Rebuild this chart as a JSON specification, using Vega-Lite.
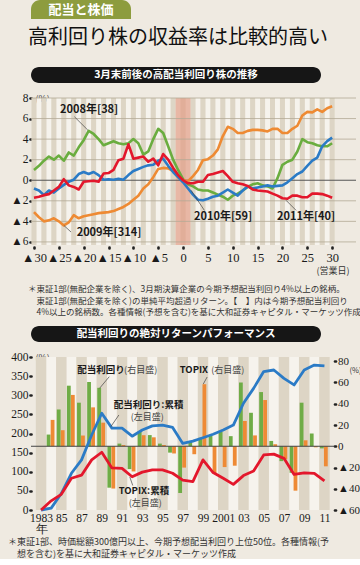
{
  "$schema": "https://vega.github.io/schema/vega-lite/v6.json",
  "background": "#efeae1",
  "padding": {"left": 8, "top": 0, "right": 0, "bottom": 0},
  "spacing": 9,
  "resolve": {"scale": {"color": "independent"}},
  "config": {
    "view": {"stroke": null},
    "font": "Noto Sans CJK JP",
    "text": {"font": "Noto Sans CJK JP"},
    "title": {"font": "Noto Sans CJK JP"},
    "axis": {"labelFont": "Liberation Sans Narrow", "labelColor": "#1a1a1a", "titleFont": "Noto Sans CJK JP", "titleColor": "#333", "titleFontWeight": "normal", "labelOverlap": false, "labelFlush": false, "grid": false, "domain": false, "tickCount": 100}
  },
  "datasets": {
    "topTan": [{"d":-30},{"d":-28},{"d":-26},{"d":-24},{"d":-22},{"d":-20},{"d":-18},{"d":-16},{"d":-14},{"d":-12},{"d":-10},{"d":-8},{"d":-6},{"d":-4},{"d":-2},{"d":0},{"d":2},{"d":4},{"d":6},{"d":8},{"d":10},{"d":12},{"d":14},{"d":16},{"d":18},{"d":20},{"d":22},{"d":24},{"d":26},{"d":28},{"d":30}],
    "topLight": [{"d":-29},{"d":-27},{"d":-25},{"d":-23},{"d":-21},{"d":-19},{"d":-17},{"d":-15},{"d":-13},{"d":-11},{"d":-9},{"d":-7},{"d":-5},{"d":-3},{"d":-1},{"d":1},{"d":3},{"d":5},{"d":7},{"d":9},{"d":11},{"d":13},{"d":15},{"d":17},{"d":19},{"d":21},{"d":23},{"d":25},{"d":27},{"d":29}],
    "topGrid": [{"v":-6},{"v":-4},{"v":-2},{"v":2},{"v":4},{"v":6},{"v":8}],
    "top": [
      {"s":"2008","d":-30,"v":1.0},{"s":"2008","d":-29,"v":1.4},{"s":"2008","d":-28,"v":1.9},{"s":"2008","d":-27,"v":2.3},{"s":"2008","d":-26,"v":2.0},{"s":"2008","d":-25,"v":2.4},{"s":"2008","d":-24,"v":1.9},{"s":"2008","d":-23,"v":2.7},{"s":"2008","d":-22,"v":2.4},{"s":"2008","d":-21,"v":3.2},{"s":"2008","d":-20,"v":3.9},{"s":"2008","d":-19,"v":4.8},{"s":"2008","d":-18,"v":4.5},{"s":"2008","d":-17,"v":4.0},{"s":"2008","d":-16,"v":3.4},{"s":"2008","d":-15,"v":3.6},{"s":"2008","d":-14,"v":3.8},{"s":"2008","d":-13,"v":3.6},{"s":"2008","d":-12,"v":3.5},{"s":"2008","d":-11,"v":3.6},{"s":"2008","d":-10,"v":4.0},{"s":"2008","d":-9,"v":3.6},{"s":"2008","d":-8,"v":2.5},{"s":"2008","d":-7,"v":2.8},{"s":"2008","d":-6,"v":4.0},{"s":"2008","d":-5,"v":5.0},{"s":"2008","d":-4,"v":4.6},{"s":"2008","d":-3,"v":3.3},{"s":"2008","d":-2,"v":2.0},{"s":"2008","d":-1,"v":1.0},{"s":"2008","d":0,"v":0.1},
      {"s":"2008","d":1,"v":-0.4},{"s":"2008","d":2,"v":-0.6},{"s":"2008","d":3,"v":-0.9},{"s":"2008","d":4,"v":-1.0},{"s":"2008","d":5,"v":-1.0},{"s":"2008","d":6,"v":-1.2},{"s":"2008","d":7,"v":-1.4},{"s":"2008","d":8,"v":-1.6},{"s":"2008","d":9,"v":-1.9},{"s":"2008","d":10,"v":-1.5},{"s":"2008","d":11,"v":-1.3},{"s":"2008","d":12,"v":-1.0},{"s":"2008","d":13,"v":-0.65},{"s":"2008","d":14,"v":-0.4},{"s":"2008","d":15,"v":-0.3},{"s":"2008","d":16,"v":-0.5},{"s":"2008","d":17,"v":-0.6},{"s":"2008","d":18,"v":-0.8},{"s":"2008","d":19,"v":0.2},{"s":"2008","d":20,"v":1.5},{"s":"2008","d":21,"v":1.8},{"s":"2008","d":22,"v":2.0},{"s":"2008","d":23,"v":2.8},{"s":"2008","d":24,"v":4.0},{"s":"2008","d":25,"v":3.7},{"s":"2008","d":26,"v":3.6},{"s":"2008","d":27,"v":3.4},{"s":"2008","d":28,"v":3.3},{"s":"2008","d":29,"v":3.3},{"s":"2008","d":30,"v":3.6},
      {"s":"2009","d":-30,"v":-3.1},{"s":"2009","d":-29,"v":-3.6},{"s":"2009","d":-28,"v":-4.0},{"s":"2009","d":-27,"v":-3.9},{"s":"2009","d":-26,"v":-3.7},{"s":"2009","d":-25,"v":-4.0},{"s":"2009","d":-24,"v":-4.4},{"s":"2009","d":-23,"v":-4.1},{"s":"2009","d":-22,"v":-3.4},{"s":"2009","d":-21,"v":-3.7},{"s":"2009","d":-20,"v":-3.5},{"s":"2009","d":-19,"v":-3.4},{"s":"2009","d":-18,"v":-3.3},{"s":"2009","d":-17,"v":-3.2},{"s":"2009","d":-16,"v":-3.15},{"s":"2009","d":-15,"v":-3.1},{"s":"2009","d":-14,"v":-3.0},{"s":"2009","d":-13,"v":-2.8},{"s":"2009","d":-12,"v":-2.6},{"s":"2009","d":-11,"v":-2.3},{"s":"2009","d":-10,"v":-1.9},{"s":"2009","d":-9,"v":-1.5},{"s":"2009","d":-8,"v":-0.8},{"s":"2009","d":-7,"v":-0.4},{"s":"2009","d":-6,"v":0.3},{"s":"2009","d":-5,"v":1.1},{"s":"2009","d":-4,"v":1.2},{"s":"2009","d":-3,"v":1.15},{"s":"2009","d":-2,"v":0.9},{"s":"2009","d":-1,"v":0.3},{"s":"2009","d":0,"v":0.0},
      {"s":"2009","d":1,"v":-0.1},{"s":"2009","d":2,"v":0.4},{"s":"2009","d":3,"v":1.0},{"s":"2009","d":4,"v":1.95},{"s":"2009","d":5,"v":2.05},{"s":"2009","d":6,"v":2.4},{"s":"2009","d":7,"v":3.0},{"s":"2009","d":8,"v":4.3},{"s":"2009","d":9,"v":5.2},{"s":"2009","d":10,"v":5.0},{"s":"2009","d":11,"v":4.6},{"s":"2009","d":12,"v":4.6},{"s":"2009","d":13,"v":4.8},{"s":"2009","d":14,"v":4.9},{"s":"2009","d":15,"v":4.9},{"s":"2009","d":16,"v":4.85},{"s":"2009","d":17,"v":4.75},{"s":"2009","d":18,"v":5.0},{"s":"2009","d":19,"v":5.0},{"s":"2009","d":20,"v":4.6},{"s":"2009","d":21,"v":4.6},{"s":"2009","d":22,"v":5.0},{"s":"2009","d":23,"v":5.3},{"s":"2009","d":24,"v":6.3},{"s":"2009","d":25,"v":6.65},{"s":"2009","d":26,"v":6.6},{"s":"2009","d":27,"v":6.9},{"s":"2009","d":28,"v":6.65},{"s":"2009","d":29,"v":7.0},{"s":"2009","d":30,"v":7.2},
      {"s":"2010","d":-30,"v":-0.8},{"s":"2010","d":-29,"v":-1.0},{"s":"2010","d":-28,"v":-1.45},{"s":"2010","d":-27,"v":-1.0},{"s":"2010","d":-26,"v":-1.2},{"s":"2010","d":-25,"v":-0.8},{"s":"2010","d":-24,"v":-0.45},{"s":"2010","d":-23,"v":-0.15},{"s":"2010","d":-22,"v":0.05},{"s":"2010","d":-21,"v":0.6},{"s":"2010","d":-20,"v":0.8},{"s":"2010","d":-19,"v":0.6},{"s":"2010","d":-18,"v":0.8},{"s":"2010","d":-17,"v":0.5},{"s":"2010","d":-16,"v":0.05},{"s":"2010","d":-15,"v":0.1},{"s":"2010","d":-14,"v":0.05},{"s":"2010","d":-13,"v":0.15},{"s":"2010","d":-12,"v":0.05},{"s":"2010","d":-11,"v":0.5},{"s":"2010","d":-10,"v":0.9},{"s":"2010","d":-9,"v":1.1},{"s":"2010","d":-8,"v":1.3},{"s":"2010","d":-7,"v":1.45},{"s":"2010","d":-6,"v":1.5},{"s":"2010","d":-5,"v":1.9},{"s":"2010","d":-4,"v":2.1},{"s":"2010","d":-3,"v":1.4},{"s":"2010","d":-2,"v":0.8},{"s":"2010","d":-1,"v":0.3},{"s":"2010","d":0,"v":-0.2},
      {"s":"2010","d":1,"v":-0.8},{"s":"2010","d":2,"v":-1.4},{"s":"2010","d":3,"v":-1.9},{"s":"2010","d":4,"v":-1.95},{"s":"2010","d":5,"v":-1.8},{"s":"2010","d":6,"v":-1.6},{"s":"2010","d":7,"v":-1.5},{"s":"2010","d":8,"v":-1.2},{"s":"2010","d":9,"v":-0.9},{"s":"2010","d":10,"v":-1.2},{"s":"2010","d":11,"v":-1.5},{"s":"2010","d":12,"v":-1.0},{"s":"2010","d":13,"v":-0.6},{"s":"2010","d":14,"v":-0.8},{"s":"2010","d":15,"v":-0.7},{"s":"2010","d":16,"v":-0.6},{"s":"2010","d":17,"v":-0.5},{"s":"2010","d":18,"v":-0.6},{"s":"2010","d":19,"v":-0.55},{"s":"2010","d":20,"v":-0.5},{"s":"2010","d":21,"v":-0.2},{"s":"2010","d":22,"v":0.2},{"s":"2010","d":23,"v":0.6},{"s":"2010","d":24,"v":0.85},{"s":"2010","d":25,"v":1.4},{"s":"2010","d":26,"v":1.9},{"s":"2010","d":27,"v":2.2},{"s":"2010","d":28,"v":3.3},{"s":"2010","d":29,"v":3.8},{"s":"2010","d":30,"v":4.15},
      {"s":"2011","d":-30,"v":-1.7},{"s":"2011","d":-29,"v":-1.6},{"s":"2011","d":-28,"v":-1.45},{"s":"2011","d":-27,"v":-1.35},{"s":"2011","d":-26,"v":-1.0},{"s":"2011","d":-25,"v":-0.65},{"s":"2011","d":-24,"v":0.1},{"s":"2011","d":-23,"v":-0.5},{"s":"2011","d":-22,"v":-0.65},{"s":"2011","d":-21,"v":-0.9},{"s":"2011","d":-20,"v":-0.15},{"s":"2011","d":-19,"v":-0.1},{"s":"2011","d":-18,"v":-0.05},{"s":"2011","d":-17,"v":-0.15},{"s":"2011","d":-16,"v":0.65},{"s":"2011","d":-15,"v":0.7},{"s":"2011","d":-14,"v":1.0},{"s":"2011","d":-13,"v":1.95},{"s":"2011","d":-12,"v":2.1},{"s":"2011","d":-11,"v":3.5},{"s":"2011","d":-10,"v":2.1},{"s":"2011","d":-9,"v":2.2},{"s":"2011","d":-8,"v":2.3},{"s":"2011","d":-7,"v":1.8},{"s":"2011","d":-6,"v":2.1},{"s":"2011","d":-5,"v":1.45},{"s":"2011","d":-4,"v":2.55},{"s":"2011","d":-3,"v":2.0},{"s":"2011","d":-2,"v":1.2},{"s":"2011","d":-1,"v":0.5},{"s":"2011","d":0,"v":0.0},
      {"s":"2011","d":1,"v":-0.3},{"s":"2011","d":2,"v":-0.3},{"s":"2011","d":3,"v":-0.15},{"s":"2011","d":4,"v":-0.15},{"s":"2011","d":5,"v":0.5},{"s":"2011","d":6,"v":0.6},{"s":"2011","d":7,"v":0.75},{"s":"2011","d":8,"v":0.9},{"s":"2011","d":9,"v":0.4},{"s":"2011","d":10,"v":-0.15},{"s":"2011","d":11,"v":-0.3},{"s":"2011","d":12,"v":-0.4},{"s":"2011","d":13,"v":-0.55},{"s":"2011","d":14,"v":-0.9},{"s":"2011","d":15,"v":-1.0},{"s":"2011","d":16,"v":-1.05},{"s":"2011","d":17,"v":-1.1},{"s":"2011","d":18,"v":-1.3},{"s":"2011","d":19,"v":-1.5},{"s":"2011","d":20,"v":-1.75},{"s":"2011","d":21,"v":-1.8},{"s":"2011","d":22,"v":-1.5},{"s":"2011","d":23,"v":-1.5},{"s":"2011","d":24,"v":-1.65},{"s":"2011","d":25,"v":-1.65},{"s":"2011","d":26,"v":-1.3},{"s":"2011","d":27,"v":-1.3},{"s":"2011","d":28,"v":-1.35},{"s":"2011","d":29,"v":-1.5},{"s":"2011","d":30,"v":-1.7}
    ],
    "topLabels": [
      {"d":-18.9,"v":6.83,"t":"2008年[38]"},
      {"d":-14.9,"v":-5.17,"t":"2009年[314]"},
      {"d":8.05,"v":-3.61,"t":"2010年[59]"},
      {"d":24.75,"v":-3.61,"t":"2011年[40]"}
    ],
    "topLeaders": [
      {"d":-21.87,"v":6.18,"d2":-19.17,"v2":4.88},
      {"d":-24.0,"v":-4.39,"d2":-22.54,"v2":-5.04},
      {"d":1.61,"v":-0.98,"d2":4.29,"v2":-2.93},
      {"d":20.72,"v":-1.95,"d2":22.74,"v2":-2.93}
    ],
    "botTan": [{"year":1983},{"year":1985},{"year":1987},{"year":1989},{"year":1991},{"year":1993},{"year":1995},{"year":1997},{"year":1999},{"year":2001},{"year":2003},{"year":2005},{"year":2007},{"year":2009},{"year":2011}],
    "botLight": [{"year":1984},{"year":1986},{"year":1988},{"year":1990},{"year":1992},{"year":1994},{"year":1996},{"year":1998},{"year":2000},{"year":2002},{"year":2004},{"year":2006},{"year":2008},{"year":2010}],
    "annual": [
      {"year":1984,"dy":11,"tp":24.8},{"year":1985,"dy":34.6,"tp":15.1},{"year":1986,"dy":57,"tp":48.3},{"year":1987,"dy":41,"tp":10.1},{"year":1988,"dy":60.5,"tp":36.6},{"year":1989,"dy":55,"tp":22.2},{"year":1990,"dy":-39,"tp":-39.8},{"year":1991,"dy":2.5,"tp":1.1},{"year":1992,"dy":-21.5,"tp":-23.7},{"year":1993,"dy":13.7,"tp":10.4},{"year":1994,"dy":10.5,"tp":8.4},{"year":1995,"dy":2.5,"tp":1.2},{"year":1996,"dy":-6,"tp":-6.8},{"year":1997,"dy":-44,"tp":-20.1},{"year":1998,"dy":4,"tp":-7.5},{"year":1999,"dy":8,"tp":58.4},{"year":2000,"dy":10,"tp":-25.5},{"year":2001,"dy":13.5,"tp":-19.6},{"year":2002,"dy":9.5,"tp":-18.3},{"year":2003,"dy":60,"tp":23.8},{"year":2004,"dy":31.5,"tp":10.2},{"year":2005,"dy":51,"tp":43.5},{"year":2006,"dy":5,"tp":1.9},{"year":2007,"dy":-14,"tp":-12.2},{"year":2008,"dy":-25,"tp":-41.8},{"year":2009,"dy":41,"tp":5.6},{"year":2010,"dy":12,"tp":-1.0},{"year":2011,"dy":-2,"tp":-18.9}
    ],
    "cum": [
      {"s":"配当利回り:累積","year":1983,"v":0},{"s":"配当利回り:累積","year":1984,"v":5},{"s":"配当利回り:累積","year":1985,"v":43},{"s":"配当利回り:累積","year":1986,"v":96},{"s":"配当利回り:累積","year":1987,"v":131},{"s":"配当利回り:累積","year":1988,"v":196},{"s":"配当利回り:累積","year":1989,"v":253},{"s":"配当利回り:累積","year":1990,"v":214},{"s":"配当利回り:累積","year":1991,"v":214},{"s":"配当利回り:累積","year":1992,"v":193},{"s":"配当利回り:累積","year":1993,"v":209},{"s":"配当利回り:累積","year":1994,"v":220},{"s":"配当利回り:累積","year":1995,"v":222},{"s":"配当利回り:累積","year":1996,"v":216},{"s":"配当利回り:累積","year":1997,"v":174},{"s":"配当利回り:累積","year":1998,"v":180},{"s":"配当利回り:累積","year":1999,"v":189},{"s":"配当利回り:累積","year":2000,"v":198},{"s":"配当利回り:累積","year":2001,"v":209},{"s":"配当利回り:累積","year":2002,"v":222},{"s":"配当利回り:累積","year":2003,"v":279},{"s":"配当利回り:累積","year":2004,"v":318},{"s":"配当利回り:累積","year":2005,"v":362},{"s":"配当利回り:累積","year":2006,"v":366},{"s":"配当利回り:累積","year":2007,"v":344},{"s":"配当利回り:累積","year":2008,"v":327},{"s":"配当利回り:累積","year":2009,"v":366},{"s":"配当利回り:累積","year":2010,"v":379},{"s":"配当利回り:累積","year":2011,"v":377},
      {"s":"TOPIX:累積","year":1983,"v":0},{"s":"TOPIX:累積","year":1984,"v":24},{"s":"TOPIX:累積","year":1985,"v":41},{"s":"TOPIX:累積","year":1986,"v":83},{"s":"TOPIX:累積","year":1987,"v":91},{"s":"TOPIX:累積","year":1988,"v":131},{"s":"TOPIX:累積","year":1989,"v":151},{"s":"TOPIX:累積","year":1990,"v":110},{"s":"TOPIX:累積","year":1991,"v":109},{"s":"TOPIX:累積","year":1992,"v":87},{"s":"TOPIX:累積","year":1993,"v":99},{"s":"TOPIX:累積","year":1994,"v":105},{"s":"TOPIX:累積","year":1995,"v":105},{"s":"TOPIX:累積","year":1996,"v":96},{"s":"TOPIX:累積","year":1997,"v":78},{"s":"TOPIX:累積","year":1998,"v":74},{"s":"TOPIX:累積","year":1999,"v":131},{"s":"TOPIX:累積","year":2000,"v":98},{"s":"TOPIX:累積","year":2001,"v":83},{"s":"TOPIX:累積","year":2002,"v":67},{"s":"TOPIX:累積","year":2003,"v":90},{"s":"TOPIX:累積","year":2004,"v":102},{"s":"TOPIX:累積","year":2005,"v":144},{"s":"TOPIX:累積","year":2006,"v":146},{"s":"TOPIX:累積","year":2007,"v":135},{"s":"TOPIX:累積","year":2008,"v":93},{"s":"TOPIX:累積","year":2009,"v":97},{"s":"TOPIX:累積","year":2010,"v":96},{"s":"TOPIX:累積","year":2011,"v":76}
    ],
    "botBold": [
      {"year":1988.93,"v":366,"t":"配当利回り"},
      {"year":1998.1,"v":366,"t":"TOPIX"},
      {"year":1993.63,"v":275,"t":"配当利回り:累積"},
      {"year":1993.16,"v":50,"t":"TOPIX:累積"}
    ],
    "botNorm": [
      {"year":1992.84,"v":366,"t":"(右目盛)"},
      {"year":2001.45,"v":366,"t":"(右目盛)"},
      {"year":1993.49,"v":242,"t":"(左目盛)"},
      {"year":1993.3,"v":17,"t":"(左目盛)"}
    ],
    "botLeaders": [
      {"year":1989.74,"v":348.5,"year2":1988.78,"v2":318.2},
      {"year":1999.41,"v":347.7,"year2":1999.03,"v2":329.4},
      {"year":1990.69,"v":248.4,"year2":1989.89,"v2":217.8},
      {"year":1992.06,"v":64,"year2":1991.77,"v2":86.3}
    ]
  },
  "vconcat": [
    {
      "width": 100, "height": 19,
      "data": {"values": [{"label": "配当と株価"}]},
      "layer": [
        {"mark": {"type": "rect", "color": "#8d9c3e", "cornerRadiusTopLeft": 9, "cornerRadiusTopRight": 9},
         "encoding": {"y": {"field": "label", "type": "nominal", "scale": {"paddingInner": 0, "paddingOuter": 0}, "axis": {"labels": false, "ticks": true, "tickSize": 9, "tickColor": "transparent", "domain": false, "title": null, "minExtent": 9, "maxExtent": 9}}}},
        {"mark": {"type": "text", "color": "white", "fontSize": 13, "fontWeight": "bold"},
         "encoding": {"y": {"field": "label", "type": "nominal"}, "text": {"field": "label"}}}
      ]
    },
    {
      "width": 290, "height": 16,
      "title": {"text": "高利回り株の収益率は比較的高い", "fontSize": 20, "fontWeight": "normal", "color": "#111", "anchor": "start", "frame": "bounds", "dx": -3, "offset": 19},
      "data": {"values": [{"label": "3月末前後の高配当利回り株の推移"}]},
      "layer": [
        {"mark": {"type": "rect", "color": "#161616", "cornerRadius": 8},
         "encoding": {"y": {"field": "label", "type": "nominal", "scale": {"paddingInner": 0, "paddingOuter": 0}, "axis": null}}},
        {"mark": {"type": "text", "color": "white", "fontSize": 10.5, "fontWeight": "bold"},
         "encoding": {"y": {"field": "label", "type": "nominal", "axis": null}, "text": {"field": "label"}}}
      ]
    },
    {
      "width": 325, "height": 147,
      "layer": [
        {"data": {"name": "topLight"}, "mark": {"type": "rule", "color": "#f6f3ed", "strokeWidth": 5},
         "encoding": {"x": {"field": "d", "type": "quantitative", "scale": {"domain": [-30.6, 34.8], "nice": false, "zero": false}}}},
        {"data": {"name": "topTan"}, "mark": {"type": "rule", "color": "#ddd5c5", "strokeWidth": 5},
         "encoding": {"x": {"field": "d", "type": "quantitative", "scale": {"domain": [-30.6, 34.8], "nice": false, "zero": false}}}},
        {"data": {"values": [{"d": -1.5, "d2": 1.5}]}, "mark": {"type": "rect", "color": "#e29c86", "opacity": 0.7},
         "encoding": {"x": {"field": "d", "type": "quantitative", "scale": {"domain": [-30.6, 34.8], "nice": false, "zero": false}}, "x2": {"field": "d2"}}},
        {"data": {"name": "topGrid"}, "mark": {"type": "rule", "color": "#b3a996", "strokeWidth": 0.8},
         "encoding": {"y": {"field": "v", "type": "quantitative", "scale": {"domain": [-6.3, 8], "nice": false, "zero": false}}}},
        {"data": {"values": [{"v": 0}]}, "mark": {"type": "rule", "color": "#555", "strokeWidth": 1},
         "encoding": {"y": {"field": "v", "type": "quantitative", "scale": {"domain": [-6.3, 8], "nice": false, "zero": false}}}},
        {"data": {"name": "top"}, "mark": {"type": "line", "strokeWidth": 2.6, "strokeJoin": "round"},
         "encoding": {
           "x": {"field": "d", "type": "quantitative", "scale": {"domain": [-30.6, 34.8], "nice": false, "zero": false},
                 "axis": {"values": [-30,-25,-20,-15,-10,-5,0,5,10,15,20,25,30], "tickCount": 100, "labelExpr": "datum.value < 0 ? '▲' + abs(datum.value) : '' + datum.value", "domain": false, "grid": false, "ticks": true, "tickSize": 1, "tickWidth": 2.6, "tickCap": "round", "tickColor": "#222", "offset": 2, "labelPadding": 3, "labelFontSize": 12.5, "labelFlush": false, "labelOverlap": false, "title": "(営業日)", "titleFontSize": 9, "titleAlign": "right", "titleX": 318, "titlePadding": 3}},
           "y": {"field": "v", "type": "quantitative", "scale": {"domain": [-6.3, 8], "nice": false, "zero": false},
                 "axis": {"values": [-6,-4,-2,0,2,4,6,8], "tickCount": 100, "labelExpr": "datum.value < 0 ? '▲' + abs(datum.value) : '' + datum.value", "domain": false, "grid": false, "ticks": true, "tickSize": 1, "tickWidth": 2.6, "tickCap": "round", "tickColor": "#222", "labelPadding": 2, "labelFontSize": 11.5, "labelOverlap": false, "minExtent": 22, "title": "(%)", "titleAngle": 0, "titleX": 4, "titleY": 0, "titleAlign": "left", "titleBaseline": "middle", "titleFontSize": 9}},
           "color": {"field": "s", "type": "nominal", "scale": {"domain": ["2008","2009","2010","2011"], "range": ["#6aad3f","#ee8a33","#2b7bc6","#e3172c"]}, "legend": null}
         }},
        {"data": {"name": "topLeaders"}, "mark": {"type": "rule", "color": "#444", "strokeWidth": 0.7},
         "encoding": {"x": {"field": "d", "type": "quantitative", "scale": {"domain": [-30.6, 34.8], "nice": false, "zero": false}}, "x2": {"field": "d2"},
                      "y": {"field": "v", "type": "quantitative", "scale": {"domain": [-6.3, 8], "nice": false, "zero": false}}, "y2": {"field": "v2"}}},
        {"data": {"name": "topLabels"}, "mark": {"type": "text", "fontSize": 11, "fontWeight": "bold", "color": "#1a1a1a"},
         "encoding": {"x": {"field": "d", "type": "quantitative", "scale": {"domain": [-30.6, 34.8], "nice": false, "zero": false}},
                      "y": {"field": "v", "type": "quantitative", "scale": {"domain": [-6.3, 8], "nice": false, "zero": false}},
                      "text": {"field": "t"}}}
      ]
    },
    {
      "width": 290, "height": 16,
      "title": {"text": ["＊東証1部(無配企業を除く)、3月期決算企業の今期予想配当利回り4%以上の銘柄。", "\u200b\u3000東証1部(無配企業を除く)の単純平均超過リターン。【　】内は今期予想配当利回り", "\u200b\u30004%以上の銘柄数。各種情報(予想を含む)を基に大和証券キャピタル・マーケッツ作成"], "fontSize": 8.5, "fontWeight": "normal", "color": "#333", "anchor": "start", "frame": "bounds", "dx": -3, "offset": 9, "lineHeight": 11.6},
      "data": {"values": [{"label": "配当利回りの絶対リターンパフォーマンス"}]},
      "layer": [
        {"mark": {"type": "rect", "color": "#161616", "cornerRadius": 8},
         "encoding": {"y": {"field": "label", "type": "nominal", "scale": {"paddingInner": 0, "paddingOuter": 0}, "axis": null}}},
        {"mark": {"type": "text", "color": "white", "fontSize": 10.5, "fontWeight": "bold"},
         "encoding": {"y": {"field": "label", "type": "nominal", "axis": null}, "text": {"field": "label"}}}
      ]
    },
    {
      "width": 303.5, "height": 153,
      "title": {"text": ["＊東証1部、時価総額300億円以上、今期予想配当利回り上位50位。各種情報(予", "\u200b\u3000想を含む)を基に大和証券キャピタル・マーケッツ作成"], "orient": "bottom", "fontSize": 9, "fontWeight": "normal", "color": "#333", "anchor": "start", "frame": "bounds", "dx": 0, "offset": 3, "lineHeight": 12},
      "layer": [
        {
          "layer": [
            {"data": {"name": "botLight"}, "mark": {"type": "rule", "color": "#f6f3ed", "strokeWidth": 10.47},
             "encoding": {"x": {"field": "year", "type": "quantitative", "scale": {"domain": [1982.5, 2011.5], "nice": false, "zero": false}}}},
            {"data": {"name": "botTan"}, "mark": {"type": "rule", "color": "#ddd5c5", "strokeWidth": 10.47},
             "encoding": {"x": {"field": "year", "type": "quantitative", "scale": {"domain": [1982.5, 2011.5], "nice": false, "zero": false}}}},
            {"data": {"name": "annual"}, "mark": {"type": "bar", "color": "#6fac46", "width": 3.8, "xOffset": -2.6, "orient": "vertical"},
             "encoding": {"x": {"field": "year", "type": "quantitative", "scale": {"domain": [1982.5, 2011.5], "nice": false, "zero": false}},
                          "y": {"field": "dy", "type": "quantitative", "scale": {"domain": [-60, 84], "nice": false, "zero": false},
                                "axis": {"orient": "right", "values": [-60,-40,-20,0,20,40,60,80], "tickCount": 100, "labelExpr": "datum.value < 0 ? '▲' + abs(datum.value) : '' + datum.value", "domain": false, "grid": false, "ticks": true, "tickSize": 1, "tickWidth": 2.6, "tickCap": "round", "tickColor": "#222", "labelPadding": 2, "labelFontSize": 11, "labelOverlap": false, "title": "(%)", "titleAngle": 0, "titleX": 14.5, "titleY": 13, "titleAlign": "left", "titleBaseline": "middle", "titleFontSize": 7.5}}}},
            {"data": {"name": "annual"}, "mark": {"type": "bar", "color": "#ee8a35", "width": 3.8, "xOffset": 1.4, "orient": "vertical"},
             "encoding": {"x": {"field": "year", "type": "quantitative", "scale": {"domain": [1982.5, 2011.5], "nice": false, "zero": false}},
                          "y": {"field": "tp", "type": "quantitative", "scale": {"domain": [-60, 84], "nice": false, "zero": false}}}},
            {"data": {"values": [{"dy": 0}]}, "mark": {"type": "rule", "color": "#444", "strokeWidth": 1},
             "encoding": {"y": {"field": "dy", "type": "quantitative", "scale": {"domain": [-60, 84], "nice": false, "zero": false}}}}
          ]
        },
        {
          "layer": [
            {"data": {"name": "cum"}, "mark": {"type": "line", "strokeWidth": 2.8, "strokeJoin": "round"},
             "encoding": {
               "x": {"field": "year", "type": "quantitative", "scale": {"domain": [1982.5, 2011.5], "nice": false, "zero": false},
                     "axis": {"values": [1983,1984,1985,1986,1987,1988,1989,1990,1991,1992,1993,1994,1995,1996,1997,1998,1999,2000,2001,2002,2003,2004,2005,2006,2007,2008,2009,2010,2011], "tickCount": 100, "labelExpr": "datum.value % 2 == 0 ? '' : (datum.value == 1983 ? ['1983', '年'] : (datum.value == 2001 ? '2001' : substring('' + datum.value, 2)))", "domain": false, "grid": false, "ticks": false, "labelPadding": 2, "labelFontSize": 11.5, "labelLineHeight": 11.5, "labelFlush": false, "labelOverlap": false, "title": null}},
               "y": {"field": "v", "type": "quantitative", "scale": {"domain": [0, 400], "nice": false, "zero": false},
                     "axis": {"orient": "left", "values": [0,50,100,150,200,250,300,350,400], "tickCount": 100, "domain": false, "grid": false, "ticks": true, "tickSize": 1, "tickWidth": 2.6, "tickCap": "round", "tickColor": "#222", "labelPadding": 2, "labelFontSize": 11.5, "labelOverlap": false, "minExtent": 23, "title": "(%)", "titleAngle": 0, "titleX": 4, "titleY": 0, "titleAlign": "left", "titleBaseline": "middle", "titleFontSize": 9}},
               "color": {"field": "s", "type": "nominal", "scale": {"domain": ["配当利回り:累積", "TOPIX:累積"], "range": ["#2b7bc6", "#e3172c"]}, "legend": null}
             }},
            {"data": {"name": "botLeaders"}, "mark": {"type": "rule", "color": "#444", "strokeWidth": 0.7},
             "encoding": {"x": {"field": "year", "type": "quantitative", "scale": {"domain": [1982.5, 2011.5], "nice": false, "zero": false}}, "x2": {"field": "year2"},
                          "y": {"field": "v", "type": "quantitative", "scale": {"domain": [0, 400], "nice": false, "zero": false}}, "y2": {"field": "v2"}}},
            {"data": {"name": "botBold"}, "mark": {"type": "text", "fontSize": 9.5, "fontWeight": "bold", "color": "#1a1a1a"},
             "encoding": {"x": {"field": "year", "type": "quantitative", "scale": {"domain": [1982.5, 2011.5], "nice": false, "zero": false}},
                          "y": {"field": "v", "type": "quantitative", "scale": {"domain": [0, 400], "nice": false, "zero": false}},
                          "text": {"field": "t"}}},
            {"data": {"name": "botNorm"}, "mark": {"type": "text", "fontSize": 9, "color": "#444"},
             "encoding": {"x": {"field": "year", "type": "quantitative", "scale": {"domain": [1982.5, 2011.5], "nice": false, "zero": false}},
                          "y": {"field": "v", "type": "quantitative", "scale": {"domain": [0, 400], "nice": false, "zero": false}},
                          "text": {"field": "t"}}}
          ]
        }
      ],
      "resolve": {"scale": {"y": "independent"}}
    }
  ]
}
